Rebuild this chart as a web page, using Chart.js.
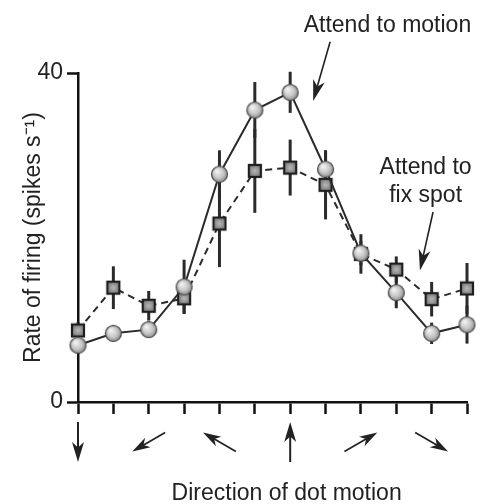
<!DOCTYPE html>
<html>
<head>
<meta charset="utf-8">
<script src="https://cdn.jsdelivr.net/npm/chart.js@4/dist/chart.umd.min.js"></script>
<style>
  html, body { margin: 0; padding: 0; background: #fff; }
  #wrap { width: 480px; height: 504px; }
</style>
</head>
<body>
<div id="wrap"><canvas id="tuning"></canvas></div>
<script>
// direction of dot motion (deg) for each tick
const directions = [270, 240, 210, 180, 150, 120, 90, 60, 30, 0, 330, 300];
// only every other direction gets an arrow under the axis
const arrowIdx = [0, 2, 4, 6, 8, 10];

const attendMotion = [6.9, 8.35, 8.8, 14.0, 27.7, 35.5, 37.65, 28.3, 18.1, 13.3, 8.35, 9.4];
const attendMotionErr = [1.0, 1.0, 1.0, 3.3, 2.9, 3.4, 2.5, 2.3, 1.5, 1.9, 1.3, 2.3];

const attendFix = [8.7, 13.9, 11.7, 12.6, 21.7, 28.1, 28.5, 26.4, 18.0, 16.1, 12.5, 13.8];
const attendFixErr = [1.0, 2.6, 1.8, 1.8, 5.3, 5.1, 3.4, 4.2, 2.4, 1.6, 2.1, 3.1];

const yTicks = [0, 40];

const FONT = '"Liberation Sans", Arial, Helvetica, sans-serif';
const INK = '#222';

// shaded marker images
function makeCircle(r) {
    const s = Math.ceil(2 * r + 3);
    const c = document.createElement('canvas');
    c.width = c.height = s;
    const g = c.getContext('2d');
    const grad = g.createRadialGradient(s / 2 - r * 0.35, s / 2 - r * 0.4, 0.5, s / 2, s / 2, r);
    grad.addColorStop(0, '#f4f4f4');
    grad.addColorStop(0.6, '#c8c8c8');
    grad.addColorStop(1, '#8e8e8e');
    g.beginPath();
    g.arc(s / 2, s / 2, r, 0, Math.PI * 2);
    g.fillStyle = grad;
    g.fill();
    g.lineWidth = 1.2;
    g.strokeStyle = '#4a4a4a';
    g.stroke();
    return c;
}

function makeSquare(w) {
    const s = w + 2;
    const c = document.createElement('canvas');
    c.width = c.height = s;
    const g = c.getContext('2d');
    const grad = g.createRadialGradient(s / 2, s / 2, 0.5, s / 2, s / 2, w * 0.7);
    grad.addColorStop(0, '#b4b4b4');
    grad.addColorStop(1, '#5a5a5a');
    g.fillStyle = grad;
    g.fillRect(2, 2, w - 2, w - 2);
    g.lineWidth = 2.2;
    g.strokeStyle = '#1e1e1e';
    g.strokeRect(2, 2, w - 2, w - 2);
    return c;
}

const circleImg = makeCircle(8);
const squareImg = makeSquare(14);

// annotations in data units (x = category index, y = rate)
const notes = [
    { lines: ['Attend to motion'], x: 8.75, y: 45.0, step: 0, arrow: [7.13, 43.8, 6.65, 36.6] },
    { lines: ['Attend to', 'fix spot'], x: 9.83, y: 27.7, step: 3.4, arrow: [10.04, 23.1, 9.67, 16.0] }
];

function arrowHead(ctx, x1, y1, x2, y2, len, half) {
    const a = Math.atan2(y2 - y1, x2 - x1);
    const c = Math.cos(a), s = Math.sin(a);
    ctx.beginPath();
    ctx.moveTo(x2, y2);
    ctx.lineTo(x2 - len * c + half * s, y2 - len * s - half * c);
    ctx.lineTo(x2 - len * c * 0.72, y2 - len * s * 0.72);
    ctx.lineTo(x2 - len * c - half * s, y2 - len * s + half * c);
    ctx.closePath();
    ctx.fill();
}

function drawArrow(ctx, x1, y1, x2, y2, lw, len, half) {
    const a = Math.atan2(y2 - y1, x2 - x1);
    ctx.lineWidth = lw;
    ctx.beginPath();
    ctx.moveTo(x1, y1);
    ctx.lineTo(x2 - len * 0.7 * Math.cos(a), y2 - len * 0.7 * Math.sin(a));
    ctx.stroke();
    arrowHead(ctx, x1, y1, x2, y2, len, half);
}

const errorBars = {
    id: 'errorBars',
    beforeDatasetsDraw(chart) {
        const { ctx } = chart;
        const y = chart.scales.y;
        const sets = [[1, attendFix, attendFixErr], [0, attendMotion, attendMotionErr]];
        ctx.save();
        ctx.strokeStyle = '#2a2a2a';
        ctx.lineWidth = 3;
        sets.forEach(([di, vals, errs]) => {
            const meta = chart.getDatasetMeta(di);
            vals.forEach((v, i) => {
                const px = meta.data[i].x;
                ctx.beginPath();
                ctx.moveTo(px, y.getPixelForValue(v + errs[i]));
                ctx.lineTo(px, y.getPixelForValue(v - errs[i]));
                ctx.stroke();
            });
        });
        ctx.restore();
    }
};

const decorations = {
    id: 'decorations',
    afterDraw(chart) {
        const { ctx, chartArea } = chart;
        const x = chart.scales.x, y = chart.scales.y;
        ctx.save();
        ctx.fillStyle = INK;
        ctx.strokeStyle = INK;

        // direction arrows under the axis
        const cy = chartArea.bottom + 40;
        arrowIdx.forEach(i => {
            const a = directions[i] * Math.PI / 180;
            const vertical = Math.abs(Math.cos(a)) < 0.01;
            const L = vertical ? 40 : 38;
            const cx = x.getPixelForValue(i);
            const dx = Math.cos(a) * L / 2, dy = -Math.sin(a) * L / 2;
            if (vertical) {
                drawArrow(ctx, cx - dx, cy - dy, cx + dx, cy + dy, 2, 20, 6);
            } else {
                drawArrow(ctx, cx - dx, cy - dy, cx + dx, cy + dy, 1.7, 18, 5.5);
            }
        });

        // x title
        ctx.font = '23px ' + FONT;
        ctx.textAlign = 'center';
        ctx.textBaseline = 'alphabetic';
        ctx.fillText('Direction of dot motion', x.getPixelForValue(5.9), chartArea.bottom + 98);

        // annotations
        notes.forEach(n => {
            n.lines.forEach((t, k) => {
                ctx.fillText(t, x.getPixelForValue(n.x), y.getPixelForValue(n.y - k * n.step));
            });
            const [ax1, ay1, ax2, ay2] = n.arrow;
            drawArrow(ctx, x.getPixelForValue(ax1), y.getPixelForValue(ay1),
                x.getPixelForValue(ax2), y.getPixelForValue(ay2), 1.6, 21, 6);
        });
        ctx.restore();
    }
};

Chart.defaults.font.family = FONT;
Chart.defaults.color = INK;

new Chart(document.getElementById('tuning'), {
    type: 'line',
    data: {
        labels: directions,
        datasets: [
            {
                label: 'Attend to motion',
                data: attendMotion,
                borderColor: '#2a2a2a',
                borderWidth: 2,
                pointStyle: circleImg,
                pointRadius: 8,
                tension: 0,
                clip: false
            },
            {
                label: 'Attend to fix spot',
                data: attendFix,
                borderColor: '#2a2a2a',
                borderWidth: 2,
                borderDash: [7, 5],
                pointStyle: squareImg,
                pointRadius: 8,
                tension: 0,
                clip: false
            }
        ]
    },
    options: {
        responsive: true,
        maintainAspectRatio: false,
        animation: false,
        devicePixelRatio: 1,
        layout: { padding: { top: 73, right: 13, bottom: 0, left: 0 } },
        plugins: {
            legend: { display: false },
            tooltip: { enabled: false }
        },
        scales: {
            x: {
                type: 'category',
                offset: false,
                border: { display: true, color: '#111', width: 2.5 },
                grid: { drawOnChartArea: false, drawTicks: true, tickLength: 12, tickWidth: 2.5, tickColor: '#111' },
                ticks: { display: false },
                afterFit(scale) { scale.height = 102; }
            },
            y: {
                min: 0,
                max: 40,
                border: { display: true, color: '#111', width: 2.5 },
                grid: { drawOnChartArea: false, drawTicks: true, tickLength: 11, tickWidth: 2.5, tickColor: '#111' },
                afterBuildTicks(scale) { scale.ticks = yTicks.map(v => ({ value: v })); },
                ticks: { padding: 4, font: { size: 23 }, color: INK },
                title: {
                    display: true,
                    text: 'Rate of firing (spikes s\u207B\u00B9)',
                    font: { size: 23 },
                    color: INK,
                    padding: { top: 20, bottom: 0 }
                },
                afterFit(scale) { scale.width = 78; }
            }
        }
    },
    plugins: [errorBars, decorations]
});
</script>
</body>
</html>
